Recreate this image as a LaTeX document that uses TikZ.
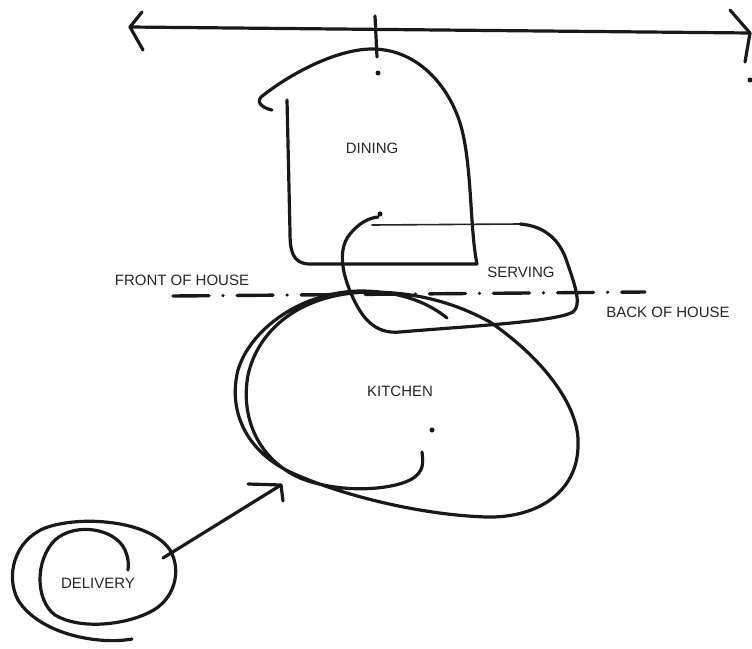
\documentclass[tikz,border=0pt]{standalone}
\usepackage{fontspec}
\setmainfont{Liberation Sans}
\usepackage{tikz}
\usetikzlibrary{arrows.meta}

\begin{document}
\begin{tikzpicture}[x=1pt,y=-1pt,
    pen/.style={draw=black!90,line width=3.2pt,line cap=round,line join=round},
    thin_pen/.style={draw=black!85,line width=1.6pt,line cap=round},
    dashdot_pen/.style={draw=black!90,line width=3.4pt,line cap=round,
        dash pattern=on 36pt off 14pt on 0.1pt off 14pt}]
\useasboundingbox (0,0) rectangle (752,648);
\begin{scope}[every node/.style={font=\fontsize{15}{15}\selectfont,text=black!85,inner sep=0pt}]
    \node (dining) at (372,148) {DINING};
    \node (serving) at (521,272) {SERVING};
    \node (kitchen) at (400,391) {KITCHEN};
    \node (delivery) at (98,583) {DELIVERY};
    \node (front) at (182,280) {FRONT OF HOUSE};
    \node (back) at (668,312) {BACK OF HOUSE};
\end{scope}
% top axis with tick
\coordinate (axisL) at (130,27);
\coordinate (axisR) at (750,33);
\coordinate (tickT) at (375,16);
\coordinate (tickB) at (377,57);
\path [pen] (axisL) edge (axisR);
\path [pen] (axisL) edge (142,12) (axisL) edge (143,50);
\path [pen] (axisR) edge (730,10) (axisR) edge (745,62);
\path [pen] (tickT) edge (tickB);
\fill [black!90] (378,73) circle (2.5pt) (750,80) circle (2.5pt);
% dining
\draw [pen] (272,110) .. controls (263,108) and (256,103) .. (261,97)
    .. controls (295,70) and (340,49) .. (372,49)
    .. controls (420,49) and (452,90) .. (462,130)
    .. controls (472,170) and (470,230) .. (477,264)
    -- (310,264) .. controls (292,264) and (290,250) .. (290,232) -- (287,100);
% serving
\fill [black!90] (380,214) circle (2.5pt);
\draw [thin_pen] (372,225) -- (520,224);
\draw [pen] (520,224) .. controls (545,226) and (560,240) .. (567,262)
    .. controls (575,285) and (582,305) .. (573,312)
    .. controls (555,322) and (470,326) .. (400,332)
    .. controls (378,334) and (365,322) .. (355,302)
    .. controls (345,282) and (335,252) .. (350,234)
    .. controls (358,224) and (368,218) .. (378,217);
% front / back of house
\draw [dashdot_pen] (173,296) -- (645,292);
% kitchen
\fill [black!90] (432,430) circle (2.5pt);
\draw [pen] (447,318) .. controls (425,300) and (395,291) .. (360,291)
    .. controls (300,292) and (250,330) .. (238,370)
    .. controls (228,410) and (245,450) .. (290,472)
    .. controls (340,495) and (420,515) .. (487,517)
    .. controls (540,518) and (578,490) .. (578,445)
    .. controls (580,410) and (548,362) .. (490,322)
    .. controls (450,300) and (410,292) .. (370,292)
    .. controls (300,293) and (258,330) .. (248,375)
    .. controls (240,420) and (260,460) .. (300,478)
    .. controls (340,494) and (390,490) .. (410,480)
    .. controls (425,472) and (423,462) .. (422,452);
% delivery
\draw [pen] (132,639) .. controls (100,645) and (40,635) .. (18,600)
    .. controls (5,575) and (15,540) .. (45,528)
    .. controls (80,515) and (150,520) .. (170,550)
    .. controls (182,570) and (175,600) .. (150,612)
    .. controls (125,625) and (80,630) .. (55,615)
    .. controls (35,600) and (35,560) .. (55,540)
    .. controls (75,522) and (115,528) .. (125,550)
    .. controls (128,557) and (129,563) .. (128,570);
% delivery to kitchen
\coordinate (dlv_out) at (163,558);
\coordinate (kit_in) at (281,485);
\path [pen] (dlv_out) edge (kit_in);
\path [pen] (kit_in) edge ++(-33,-1) (kit_in) edge ++(2,16);
\end{tikzpicture}
\end{document}
